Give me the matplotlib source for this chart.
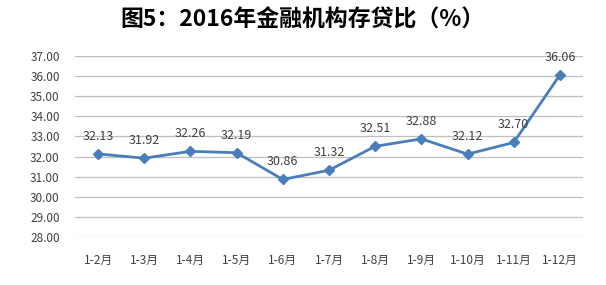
import matplotlib
matplotlib.use("Agg")
import matplotlib.pyplot as plt

categories = ["1-2月", "1-3月", "1-4月", "1-5月", "1-6月", "1-7月", "1-8月", "1-9月", "1-10月", "1-11月", "1-12月"]
values = [32.13, 31.92, 32.26, 32.19, 30.86, 31.32, 32.51, 32.88, 32.12, 32.70, 36.06]
yticks = [28, 29, 30, 31, 32, 33, 34, 35, 36, 37]
title = "图5：2016年金融机构存贷比（%）"

plt.rcParams['font.family'] = ['Noto Sans CJK SC', 'DejaVu Sans']

fig = plt.figure(figsize=(6.06, 2.85), dpi=100)
ax = fig.add_axes([75/606, 1-237/285, (583-75)/606, (237-56)/285])

x = list(range(len(categories)))
ax.plot(x, values, color="#4A7EBB", linewidth=2.0, marker="D", markersize=5.5, zorder=3)
for xi, v in zip(x, values):
    ax.annotate(f"{v:.2f}", (xi, v), xytext=(0, 8), textcoords="offset points",
                ha="center", va="bottom", fontsize=9, color="#404040")

ax.set_xlim(-0.5, len(categories) - 0.5)
ax.set_ylim(28, 37)
ax.set_yticks(yticks)
ax.set_yticklabels([f"{t:.2f}" for t in yticks], fontsize=8.5, color="#404040")
ax.set_xticks(x)
ax.set_xticklabels(categories, fontsize=8.5, color="#404040")
ax.tick_params(length=0, pad=12)
ax.tick_params(axis='y', pad=11)
ax.grid(axis='y', color="#BEBEBE", linewidth=0.9)
ax.set_axisbelow(True)
for s in ax.spines.values():
    s.set_visible(False)

fig.text(0.5, 1-20/285, title, ha="center", va="center", fontsize=16.5, fontweight="bold", color="#000000")

fig.savefig("out.png", dpi=100)
